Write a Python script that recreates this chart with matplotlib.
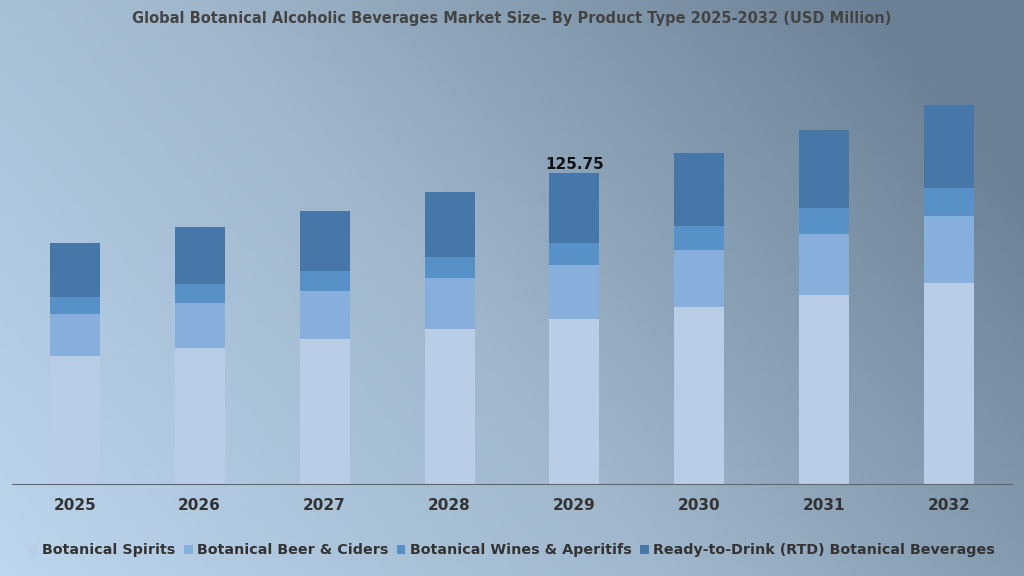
import numpy as np
import matplotlib
matplotlib.use("Agg")
import matplotlib.pyplot as plt
from matplotlib.colors import LinearSegmentedColormap

years = ["2025","2026","2027","2028","2029","2030","2031","2032"]
spirits = [51.9,55.2,58.8,62.9,66.9,71.8,76.7,81.5]
beer = [17.0,17.9,19.5,20.3,21.9,23.1,24.7,27.2]
wines = [6.9,7.7,8.1,8.5,8.9,9.7,10.5,11.0]
rtd = [21.9,23.1,24.3,26.4,28.05,29.6,31.6,33.7]
series = ["Botanical Spirits","Botanical Beer & Ciders","Botanical Wines & Aperitifs","Ready-to-Drink (RTD) Botanical Beverages"]
colors = ["#b9cde7","#86afdc","#5890c8","#4776a9"]

fig = plt.figure(figsize=(10.24,5.76), dpi=100)
bg = fig.add_axes([0,0,1,1]); bg.axis("off")
xx, yy = np.meshgrid(np.linspace(0,1,200), np.linspace(0,1,120))
t = np.clip(0.75*xx + 0.35*yy, 0, 1)
cmap = LinearSegmentedColormap.from_list("bg", ["#bcd6ee","#9fb6cb","#6b8094"])
bg.imshow(t, cmap=cmap, aspect="auto", extent=[0,1,0,1], origin="lower")

ax = fig.add_axes([0.012, 0.16, 0.976, 0.75])
ax.patch.set_alpha(0)
x = np.arange(len(years))
bottom = np.zeros(len(years))
for vals, c, name in zip([spirits,beer,wines,rtd], colors, series):
    ax.bar(x, vals, 0.4, bottom=bottom, color=c, label=name)
    bottom += np.array(vals)
ax.text(4, bottom[4]+0.5, "125.75", ha="center", va="bottom", fontsize=11, fontweight="bold", color="#111111")
ax.set_xlim(-0.5, 7.5)
ax.set_ylim(0, 175)
ax.set_xticks(x, years, fontsize=11, fontweight="bold", color="#333333")
ax.set_yticks([])
for s in ["top","left","right"]:
    ax.spines[s].set_visible(False)
ax.spines["bottom"].set_color("#666666")
ax.tick_params(axis="x", length=0, pad=10)
fig.text(0.5, 0.968, "Global Botanical Alcoholic Beverages Market Size- By Product Type 2025-2032 (USD Million)",
         ha="center", va="center", fontsize=10.5, fontweight="bold", color="#444444")
fig.legend(loc="lower center", bbox_to_anchor=(0.5, 0.01), ncol=4, frameon=False,
           handlelength=0.6, handleheight=0.6, columnspacing=0.6, handletextpad=0.3,
           prop={"weight":"bold","size":10.3}, labelcolor="#333333")
fig.savefig("out.png", dpi=100)
